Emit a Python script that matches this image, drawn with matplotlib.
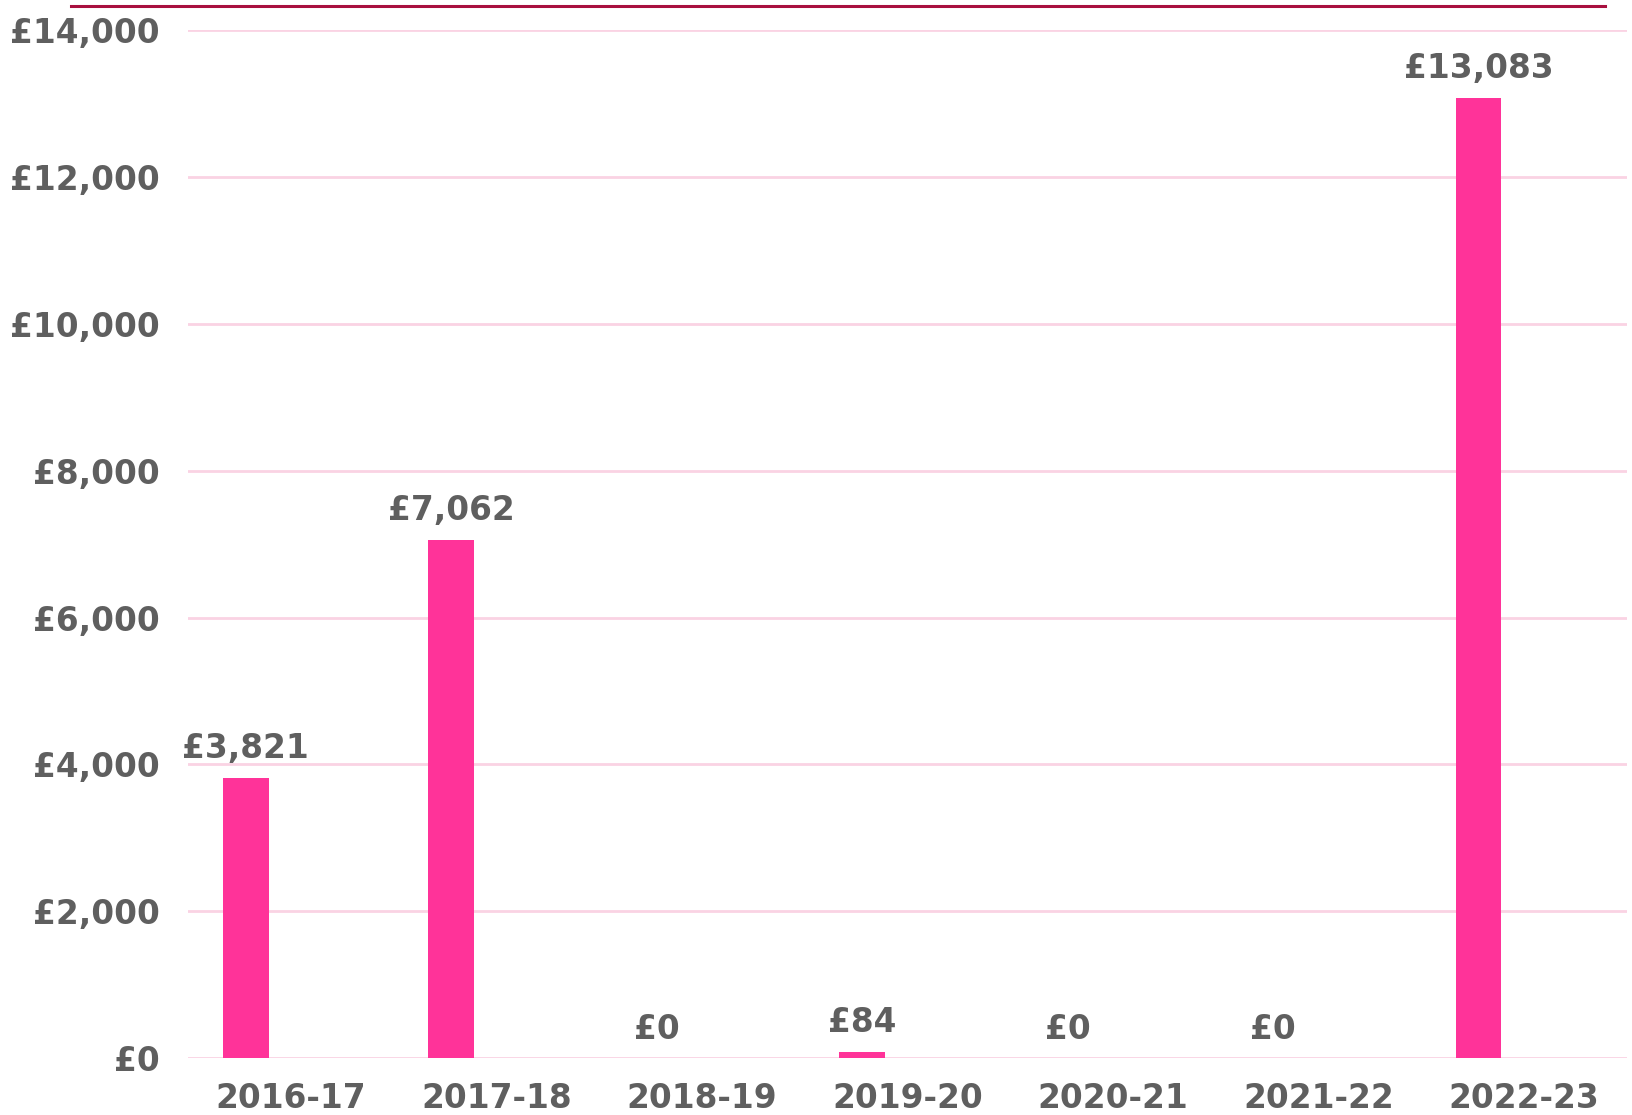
import matplotlib
matplotlib.use("Agg")
import matplotlib.pyplot as plt
from matplotlib.lines import Line2D
import numpy as np

categories = ["2016-17", "2017-18", "2018-19", "2019-20", "2020-21", "2021-22", "2022-23"]
values = [3821, 7062, 0, 84, 0, 0, 13083]
yticks = [0, 2000, 4000, 6000, 8000, 10000, 12000, 14000]

text_color = "#5f5f5f"
bar_color = "#FF3399"
grid_color = "#FAD3E3"
plt.rcParams['font.family'] = ['DejaVu Sans']

fig = plt.figure(figsize=(16.33, 11.15), dpi=100)
ax = fig.add_axes([0.1154, 0.0511, 0.9961 - 0.1154, 0.9729 - 0.0511])

x = np.arange(len(categories))
offset = -0.221
width = 0.223
bars = ax.bar(x + offset, values, width=width, color=bar_color, zorder=3)

for xi, v in zip(x, values):
    ax.annotate(f"£{v:,}", xy=(xi + offset, v), xytext=(0, 9), textcoords="offset points",
                ha="center", va="bottom", fontsize=23.6, fontweight="bold", color=text_color)

ax.set_xlim(-0.5, len(categories) - 0.5)
ax.set_ylim(0, 14000)
ax.set_yticks(yticks)
ax.set_yticklabels([f"£{t:,}" for t in yticks])
ax.set_xticks(x)
ax.set_xticklabels(categories)
ax.tick_params(axis="both", length=0, labelsize=23.6, labelcolor=text_color)
ax.tick_params(axis="y", pad=20.5)
ax.tick_params(axis="x", pad=17)
for lab in ax.get_xticklabels() + ax.get_yticklabels():
    lab.set_fontweight("bold")
ax.yaxis.grid(True, color=grid_color, linewidth=2, zorder=0)
ax.set_axisbelow(True)
for s in ax.spines.values():
    s.set_visible(False)

fig.add_artist(Line2D([0.0434, 0.9827], [0.9944, 0.9944], color="#A8103F", linewidth=2.2,
                      transform=fig.transFigure))

fig.savefig("out.png", dpi=100)
